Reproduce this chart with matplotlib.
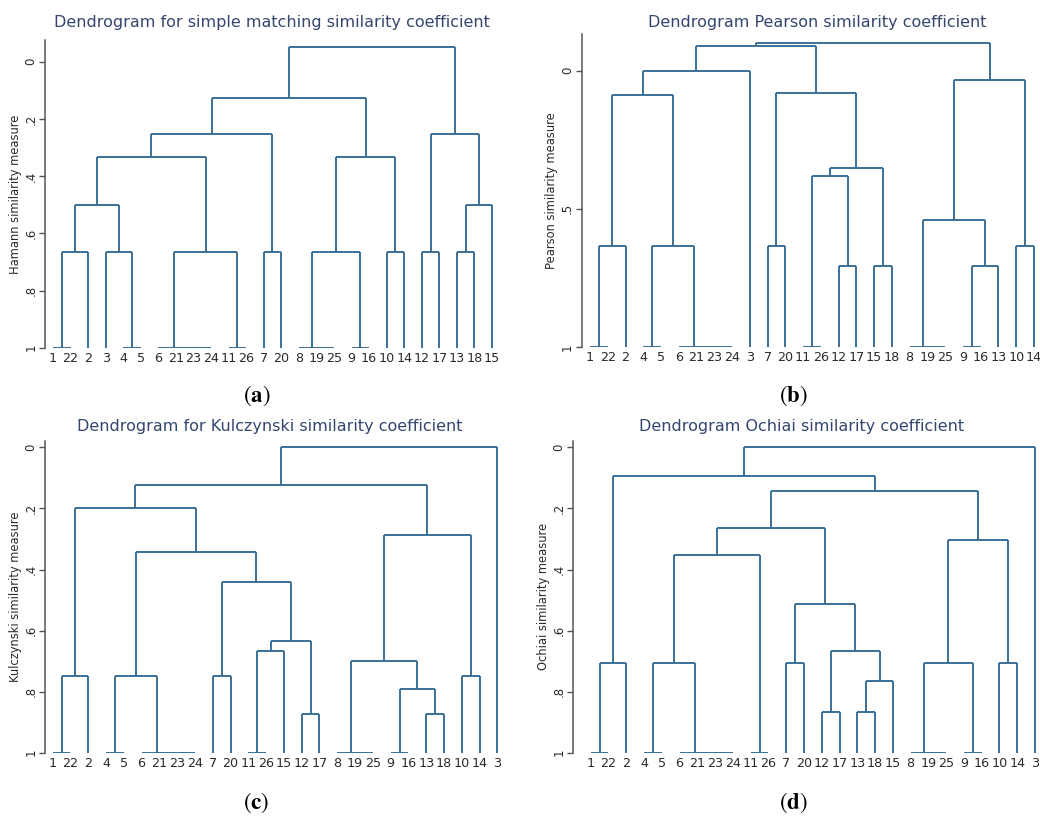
import matplotlib
matplotlib.use("Agg")
import matplotlib.pyplot as plt

# ---------------- data ----------------
titles = [
    "Dendrogram for simple matching similarity coefficient",
    "Dendrogram Pearson similarity coefficient",
    "Dendrogram for Kulczynski similarity coefficient",
    "Dendrogram Ochiai similarity coefficient",
]
ylabels = [
    "Hamann similarity measure",
    "Pearson similarity measure",
    "Kulczynski similarity measure",
    "Ochiai similarity measure",
]
panel_tags = ["a", "b", "c", "d"]

leaves_a = ["1", "22", "2", "3", "4", "5", "6", "21", "23", "24", "11", "26", "7", "20",
            "8", "19", "25", "9", "16", "10", "14", "12", "17", "13", "18", "15"]
leaves_b = ["1", "22", "2", "4", "5", "6", "21", "23", "24", "3", "7", "20", "11", "26",
            "12", "17", "15", "18", "8", "19", "25", "9", "16", "13", "10", "14"]
leaves_c = ["1", "22", "2", "4", "5", "6", "21", "23", "24", "7", "20", "11", "26", "15",
            "12", "17", "8", "19", "25", "9", "16", "13", "18", "10", "14", "3"]
leaves_d = ["1", "22", "2", "4", "5", "6", "21", "23", "24", "11", "26", "7", "20", "12",
            "17", "13", "18", "15", "8", "19", "25", "9", "16", "10", "14", "3"]

# merge trees: (left, right, similarity level)
g6 = ("6", ("21", ("23", "24", 1.0), 1.0), 1.0)
g8 = ("8", ("19", "25", 1.0), 1.0)

tree_a = (
    (
        (
            (
                ((("1", "22", 1.0), "2", 0.667), ("3", ("4", "5", 1.0), 0.667), 0.50),
                (g6, ("11", "26", 1.0), 0.667),
                0.332),
            ("7", "20", 0.667),
            0.251),
        ((g8, ("9", "16", 1.0), 0.667), ("10", "14", 0.667), 0.332),
        0.128),
    (("12", "17", 0.667), (("13", "18", 0.667), "15", 0.50), 0.251),
    -0.05)

tree_b = (
    (
        (
            ((("1", "22", 1.0), "2", 0.633), (("4", "5", 1.0), g6, 0.633), 0.089),
            "3",
            0.0),
        (("7", "20", 0.633),
         ((("11", "26", 1.0), ("12", "17", 0.708), 0.382), ("15", "18", 0.708), 0.353),
         0.080),
        -0.087),
    ((g8, (("9", "16", 1.0), "13", 0.708), 0.540), ("10", "14", 0.633), 0.035),
    -0.101)

tree_c = (
    (
        (
            (("1", "22", 1.0), "2", 0.749),
            (
                (("4", "5", 1.0), g6, 0.749),
                (("7", "20", 0.749),
                 ((("11", "26", 1.0), "15", 0.666), ("12", "17", 0.873), 0.633),
                 0.441),
                0.341),
            0.20),
        ((g8, (("9", "16", 1.0), ("13", "18", 0.873), 0.790), 0.699), ("10", "14", 0.749), 0.288),
        0.124),
    "3",
    0.0)

tree_d = (
    (
        (("1", "22", 1.0), "2", 0.705),
        (
            (
                ((("4", "5", 1.0), g6, 0.705), ("11", "26", 1.0), 0.353),
                (("7", "20", 0.705),
                 (("12", "17", 0.867), (("13", "18", 0.867), "15", 0.764), 0.666),
                 0.513),
                0.264),
            ((g8, ("9", "16", 1.0), 0.705), ("10", "14", 0.705), 0.303),
            0.143),
        0.093),
    "3",
    0.0)

trees = [tree_a, tree_b, tree_c, tree_d]
leaf_lists = [leaves_a, leaves_b, leaves_c, leaves_d]
yticks_list = [[0, .2, .4, .6, .8, 1], [0, .5, 1], [0, .2, .4, .6, .8, 1], [0, .2, .4, .6, .8, 1]]
ytick_labels = [["0", ".2", ".4", ".6", ".8", "1"], ["0", ".5", "1"],
                ["0", ".2", ".4", ".6", ".8", "1"], ["0", ".2", ".4", ".6", ".8", "1"]]

# ---------------- layout (pixels) ----------------
W, H = 1040, 817
# (left px, right px, top px, bottom px, xlim, ylim_top)
layouts = [
    (45, 500, 40, 347.7, (1 - 0.456, 26 + 0.456), -0.076),
    (581.7, 1040, 34.3, 347.3, (1 - 0.47, 26 + 0.34), -0.131),
    (45, 505, 440.7, 752.7, (1 - 0.43, 26 + 0.43), -0.022),
    (573.3, 1040, 440.7, 752.7, (1 - 0.98, 26 + 0.28), -0.022),
]
title_pos = [(272, 23), (817, 23), (270, 427), (802, 427)]
tag_pos = [(257, 396), (793, 396), (256, 803), (793, 803)]

LINE = "#3b7098"
TITLE_C = "#34466e"
AX_C = "#555555"
TXT_C = "#2a2a2a"

plt.rcParams["font.family"] = ["DejaVu Sans"]
plt.rcParams["mathtext.fontset"] = "stix"

fig = plt.figure(figsize=(W / 100, H / 100), dpi=100)


def draw(ax, node, pos):
    if isinstance(node, str):
        return pos[node], 1.0
    left, right, h = node
    xl, hl = draw(ax, left, pos)
    xr, hr = draw(ax, right, pos)
    if hl != h:
        ax.plot([xl, xl], [hl, h], color=LINE, lw=1.4, solid_capstyle="butt")
    if hr != h:
        ax.plot([xr, xr], [hr, h], color=LINE, lw=1.4, solid_capstyle="butt")
    ax.plot([xl, xr], [h, h], color=LINE, lw=1.4, solid_capstyle="butt")
    return (xl + xr) / 2, h


for i in range(4):
    l, r, t, b, xlim, ytop = layouts[i]
    ax = fig.add_axes([l / W, 1 - b / H, (r - l) / W, (b - t) / H])
    leaves = leaf_lists[i]
    pos = {lab: k + 1 for k, lab in enumerate(leaves)}
    draw(ax, trees[i], pos)
    ax.set_xlim(*xlim)
    ax.set_ylim(1.0, ytop)
    for s in ["top", "right", "bottom"]:
        ax.spines[s].set_visible(False)
    ax.spines["left"].set_color(AX_C)
    ax.spines["left"].set_linewidth(1.1)
    ax.set_yticks(yticks_list[i])
    ax.set_yticklabels(ytick_labels[i], rotation=90, va="center", fontsize=8.5, color=TXT_C)
    ax.tick_params(axis="y", length=4, width=1.0, color=AX_C, pad=1.5)
    ax.set_xticks(range(1, len(leaves) + 1))
    ax.set_xticklabels(leaves, fontsize=9.2, color=TXT_C)
    ax.tick_params(axis="x", length=0, pad=3)
    ax.set_ylabel(ylabels[i], fontsize=8.3, color=TXT_C, labelpad=2)
    ax.patch.set_alpha(0)
    fig.text(title_pos[i][0] / W, 1 - title_pos[i][1] / H, titles[i], ha="center", va="center",
             fontsize=11.5, color=TITLE_C)
    fig.text(tag_pos[i][0] / W, 1 - tag_pos[i][1] / H, "(" + r"$\mathbf{" + panel_tags[i] + "}$" + ")",
             ha="center", va="center", fontsize=16.5, family="STIXGeneral", color="black")

fig.savefig("out.png", dpi=100)
